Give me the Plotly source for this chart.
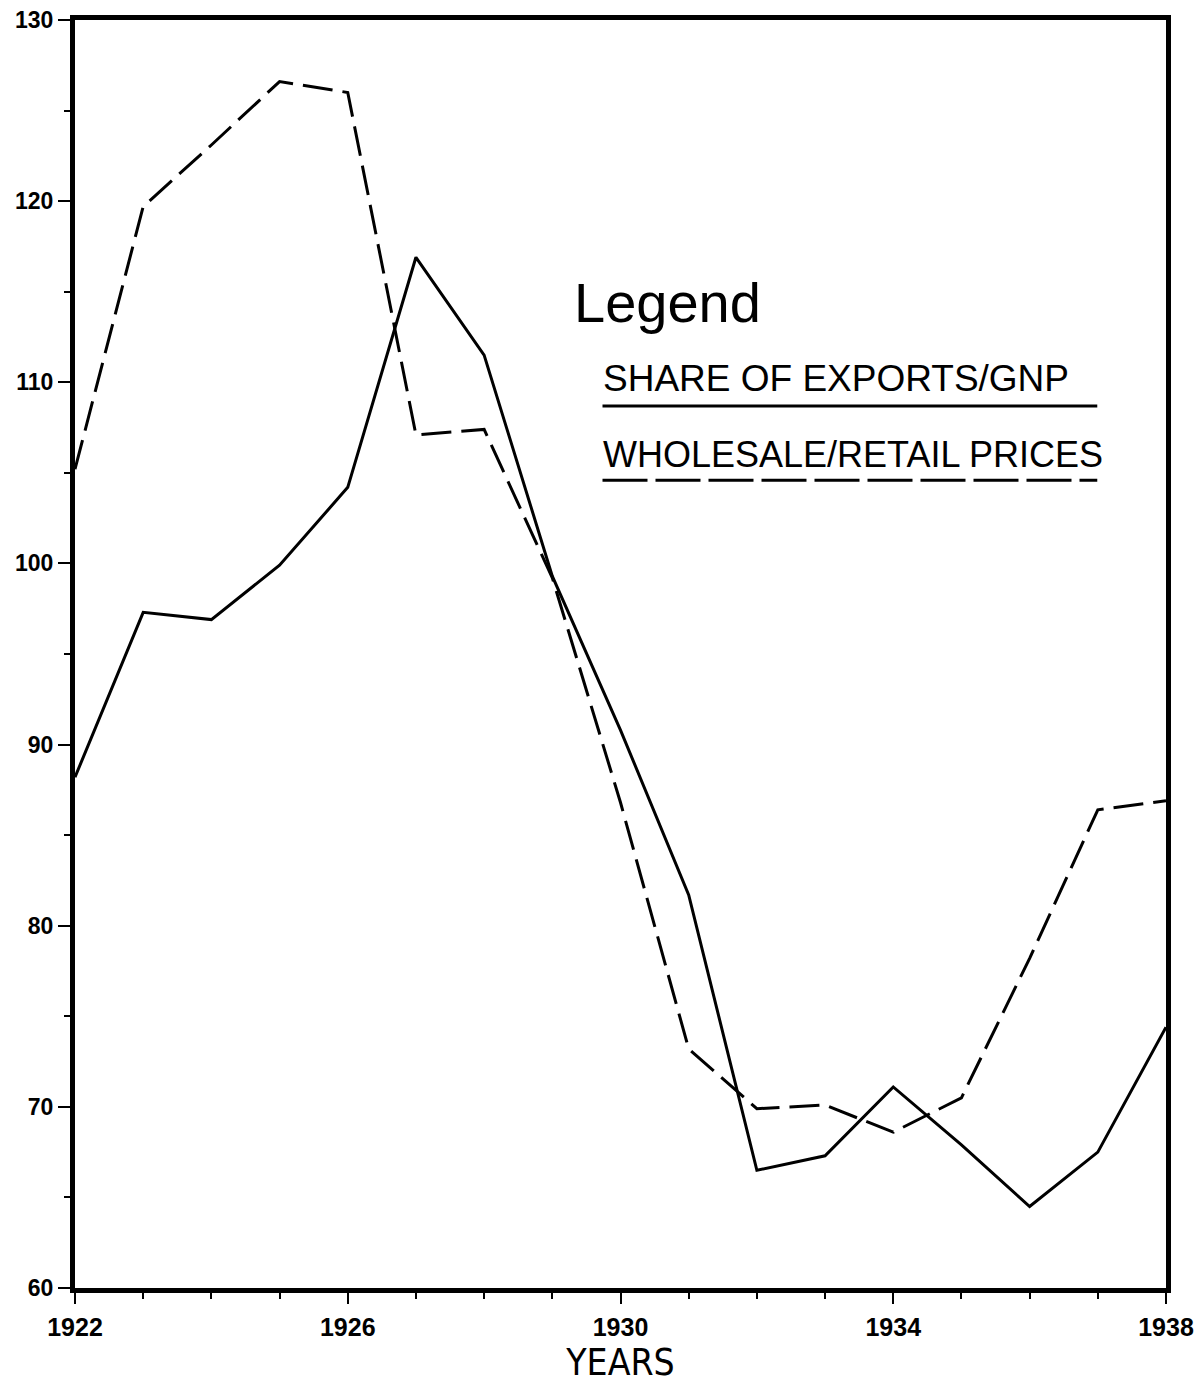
import plotly.graph_objects as go

# Годы и ряды
years = [1922, 1923, 1924, 1925, 1926, 1927, 1928, 1929, 1930,
         1931, 1932, 1933, 1934, 1935, 1936, 1937, 1938]
exports_gnp = [88.2, 97.3, 96.9, 99.9, 104.2, 116.9, 111.5, 99.3, 90.8,
               81.7, 66.5, 67.3, 71.1, 67.9, 64.5, 67.5, 74.4]
wholesale_retail = [105.2, 119.7, 123.1, 126.6, 126.0, 107.1, 107.4, 99.2, 86.8,
                    73.2, 69.9, 70.1, 68.6, 70.5, 78.2, 86.4, 86.9]

x_ticks = [1922, 1926, 1930, 1934, 1938]
y_ticks = [60, 70, 80, 90, 100, 110, 120, 130]

legend_title = 'Legend'
series_names = ['SHARE OF EXPORTS/GNP', 'WHOLESALE/RETAIL PRICES']

fig = go.Figure()

fig.add_trace(go.Scatter(
    x=years, y=exports_gnp, mode='lines',
    line=dict(color='black', width=3),
    name=series_names[0], showlegend=False
))
fig.add_trace(go.Scatter(
    x=years, y=wholesale_retail, mode='lines',
    line=dict(color='black', width=3, dash='30px,10px'),
    name=series_names[1], showlegend=False
))

# Самодельная легенда: подписи и линии под ними
text_font = dict(family='Liberation Sans', color='black')
fig.add_annotation(
    xref='paper', yref='paper', x=0.456, y=0.777,
    xanchor='left', yanchor='middle', showarrow=False,
    text=legend_title, font=dict(size=56, **text_font)
)
fig.add_annotation(
    xref='paper', yref='paper', x=0.482, y=0.717,
    xanchor='left', yanchor='middle', showarrow=False,
    text=series_names[0], font=dict(size=37, **text_font)
)
fig.add_annotation(
    xref='paper', yref='paper', x=0.482, y=0.657,
    xanchor='left', yanchor='middle', showarrow=False,
    text=series_names[1], font=dict(size=36, **text_font)
)
fig.add_shape(
    type='line', xref='paper', yref='paper',
    x0=0.4835, x1=0.937, y0=0.6956, y1=0.6956,
    line=dict(color='black', width=3)
)
fig.add_shape(
    type='line', xref='paper', yref='paper',
    x0=0.4835, x1=0.937, y0=0.637, y1=0.637,
    line=dict(color='black', width=3, dash='45px,8px')
)

tick_font = dict(family='Liberation Sans', size=25, color='black', weight='bold')
ytick_font = dict(family='Liberation Sans', size=23, color='black', weight='bold')

# страница сама даёт 8px отступа слева и сверху
fig.update_layout(
    width=1196, height=1376,
    margin=dict(l=67, r=38, t=12, b=96),
    paper_bgcolor='white', plot_bgcolor='white',
    xaxis=dict(
        range=[1922, 1938], tickvals=x_ticks,
        ticktext=[str(v) for v in x_ticks],
        showgrid=False, zeroline=False, automargin=False,
        showline=True, linecolor='black', linewidth=5, mirror=True,
        ticks='outside', ticklen=11, tickwidth=2, tickcolor='black',
        minor=dict(dtick=1, tick0=1922, ticks='outside', ticklen=6,
                   tickwidth=2, tickcolor='black', showgrid=False),
        tickfont=tick_font, ticklabelstandoff=2, ticklabeloverflow='allow',
        title=dict(text='YEARS', font=dict(family='DejaVu Sans Condensed', size=37, color='black'),
                   standoff=2)
    ),
    yaxis=dict(
        range=[60, 130], tickvals=y_ticks,
        showgrid=False, zeroline=False, automargin=False,
        showline=True, linecolor='black', linewidth=5, mirror=True,
        ticks='outside', ticklen=12, tickwidth=2, tickcolor='black',
        minor=dict(dtick=5, tick0=60, ticks='outside', ticklen=6,
                   tickwidth=2, tickcolor='black', showgrid=False),
        tickfont=ytick_font, ticklabelstandoff=0, ticklabeloverflow='allow'
    )
)

fig.write_html('out.html')
